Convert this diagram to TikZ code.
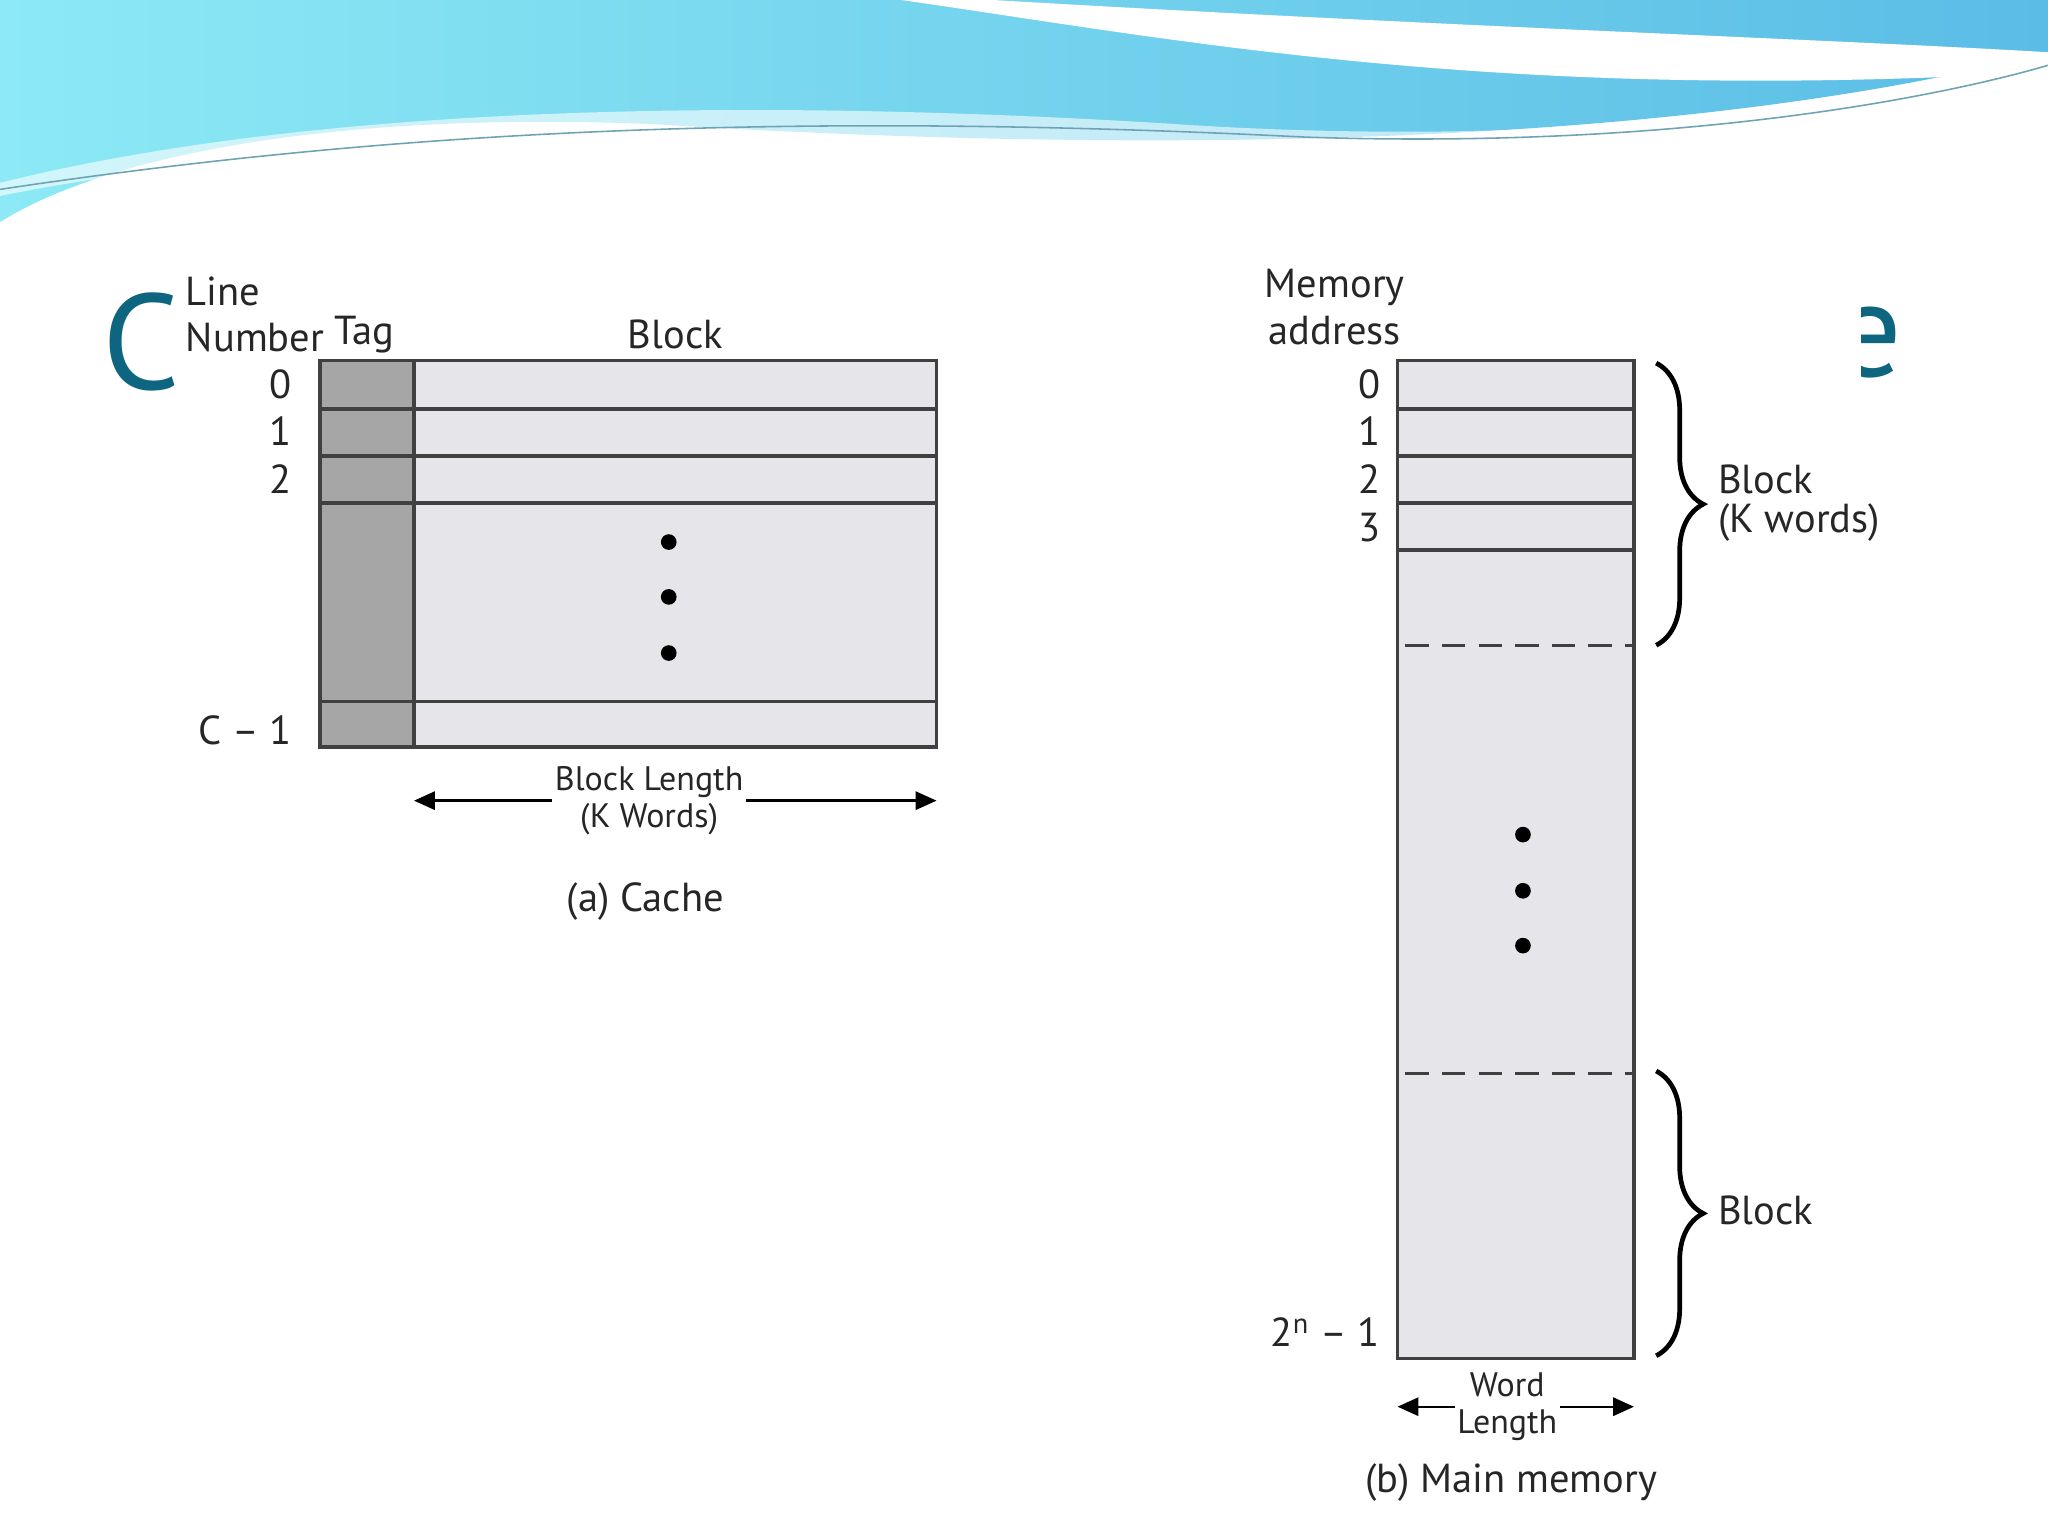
\documentclass[tikz,border=0pt]{standalone}
\usepackage{fontspec}
\setmainfont{PT Sans}
\usetikzlibrary{arrows.meta,decorations.pathreplacing}
\definecolor{cellc}{HTML}{E6E6EA}
\definecolor{tagc}{HTML}{A6A6A6}
\definecolor{teal}{HTML}{0E6580}
\definecolor{cyanA}{HTML}{8CE9F5}
\definecolor{blueA}{HTML}{5BBDE6}
\tikzset{
  cell/.style={draw=black!75, line width=1.3pt, fill=cellc},
  tagcell/.style={draw=black!75, line width=1.3pt, fill=tagc},
  lbl/.style={font=\fontsize{15.5}{18}\selectfont, text=black!85, inner sep=0pt},
  slbl/.style={font=\fontsize{13}{14.5}\selectfont, text=black!85, inner sep=1pt, fill=white, align=center},
  dot/.style={circle, fill=black, inner sep=0pt, minimum size=6pt},
  dim/.style={-{Triangle[length=8pt,width=7pt]}, line width=0.9pt},
  brc/.style={decorate, decoration={brace, amplitude=18pt}, line width=1.8pt},
}
\begin{document}
\begin{tikzpicture}[x=0.5pt,y=-0.5pt]
\useasboundingbox (0,0) rectangle (1568,1176);
\fill[white] (0,0) rectangle (1568,1176);
% banner
\shade[left color=cyanA, right color=blueA] (0,0) -- (1568,0) -- (1568,40) .. controls (1300,110) and (900,120) .. (500,95) .. controls (250,85) and (80,120) .. (0,170) -- cycle;
\fill[white] (690,0) .. controls (900,30) and (1150,80) .. (1568,55) -- (1568,40) .. controls (1400,30) and (1100,20) .. (760,0) -- cycle;
\fill[white, opacity=0.6] (0,140) .. controls (200,90) and (500,70) .. (900,95) .. controls (1200,115) and (1450,80) .. (1568,45) -- (1568,60) .. controls (1400,110) and (1100,120) .. (800,110) .. controls (500,95) and (200,110) .. (0,150) -- cycle;
\draw[teal!60, line width=0.6pt] (0,145) .. controls (300,100) and (600,85) .. (1000,105) .. controls (1300,115) and (1500,70) .. (1568,50);
% title fragments
\node[text=teal, font=\fontsize{52}{60}\selectfont, anchor=west, inner sep=0pt] (tc) at (78,262) {C};
\begin{scope}
\clip (1425,200) rectangle (1452,320);
\node[text=teal, font=\fontsize{52}{60}\selectfont, anchor=west, inner sep=0pt] (te) at (1403,262) {e};
\end{scope}
\fill[white] (140,205) rectangle (1425,1150);
% cache
\foreach \a/\b in {276/313,313/349,349/385,385/537,537/572}{
  \draw[tagcell] (245,\a) rectangle (317,\b);
  \draw[cell] (317,\a) rectangle (717,\b);
}
\node[dot] (d1) at (512,415) {};
\node[dot] (d2) at (512,457) {};
\node[dot] (d3) at (512,500) {};
\node[lbl, anchor=west] (ln1) at (142,223) {Line};
\node[lbl, anchor=west] (ln2) at (142,258) {Number};
\node[lbl] (tag) at (279,256) {Tag};
\node[lbl] (blk) at (517,256) {Block};
\node[lbl, anchor=east] (r0) at (224,294) {0};
\node[lbl, anchor=east] (r1) at (224,330) {1};
\node[lbl, anchor=east] (r2) at (224,367) {2};
\node[lbl, anchor=east] (rc) at (224,559) {C – 1};
\coordinate (bl1) at (317,613);
\coordinate (bl2) at (717,613);
\draw[dim] (497,613) -- (bl1);
\draw[dim] (497,613) -- (bl2);
\node[slbl] (blen) at (497,613) {Block Length\\(K Words)};
\node[lbl] (capa) at (494,690) {(a) Cache};
% main memory
\draw[cell] (1070,276) rectangle (1251,1040);
\foreach \y in {313,349,385,421}{\draw[black!75, line width=1.3pt] (1070,\y) -- (1251,\y);}
\draw[black!75, line width=1.1pt, dash pattern=on 9pt off 5pt] (1076,494) -- (1251,494);
\draw[black!75, line width=1.1pt, dash pattern=on 9pt off 5pt] (1076,822) -- (1251,822);
\node[dot] (m1) at (1166,639) {};
\node[dot] (m2) at (1166,682) {};
\node[dot] (m3) at (1166,724) {};
\node[lbl] (ma1) at (1022,220) {Memory};
\node[lbl] (ma2) at (1022,253) {address};
\node[lbl, anchor=east] (a0) at (1057,294) {0};
\node[lbl, anchor=east] (a1) at (1057,330) {1};
\node[lbl, anchor=east] (a2) at (1057,367) {2};
\node[lbl, anchor=east] (a3) at (1057,404) {3};
\node[lbl, anchor=east] (an) at (1057,1020) {2\textsuperscript{n} – 1};
\coordinate (b1t) at (1268,278);
\coordinate (b1b) at (1268,494);
\coordinate (b2t) at (1268,820);
\coordinate (b2b) at (1268,1038);
\draw[brc] (b1t) -- (b1b);
\draw[brc] (b2t) -- (b2b);
\node[lbl, anchor=west] (bk1) at (1315,367) {Block};
\node[lbl, anchor=west] (bk2) at (1315,400) {(K words)};
\node[lbl, anchor=west] (bk3) at (1315,927) {Block};
\coordinate (w1) at (1070,1077);
\coordinate (w2) at (1251,1077);
\draw[dim] (1160,1077) -- (w1);
\draw[dim] (1160,1077) -- (w2);
\node[slbl] (wl) at (1154,1077) {Word\\Length};
\node[lbl] (capb) at (1157,1135) {(b) Main memory};
\end{tikzpicture}
\end{document}
